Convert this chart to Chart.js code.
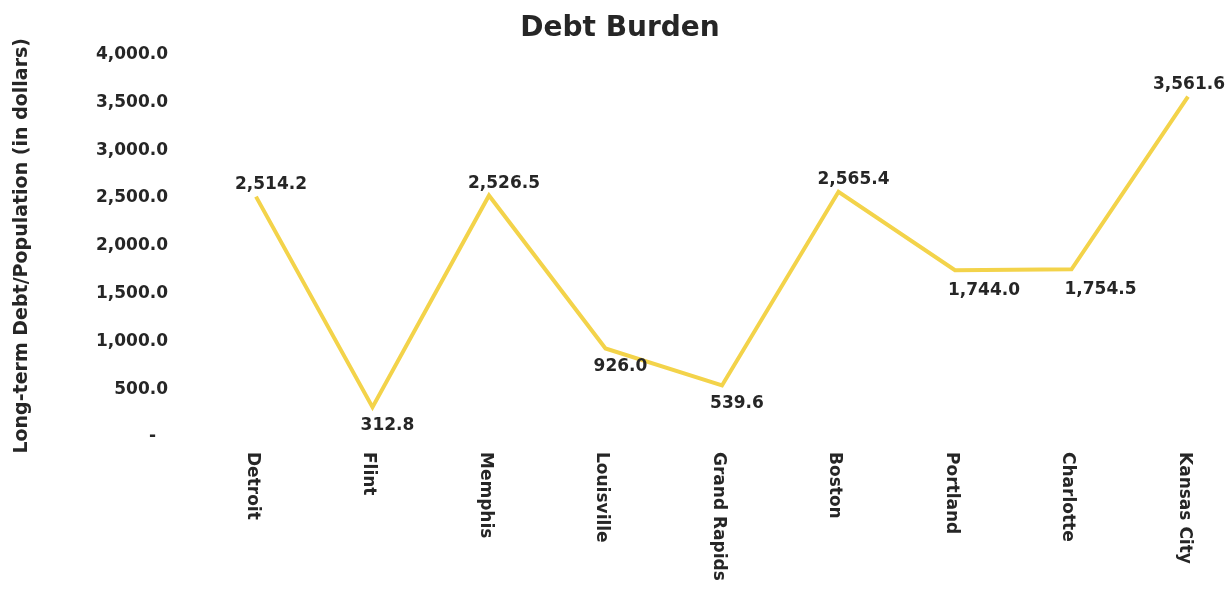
<!DOCTYPE html>
<html>
<head>
<meta charset="utf-8">
<title>Debt Burden</title>
<script src="https://cdn.jsdelivr.net/npm/chart.js@4"></script>
<style>
  body { margin: 0; background: #fff; }
  #wrap { width: 1231px; height: 589px; position: relative; }
</style>
</head>
<body>
<div id="wrap"><canvas id="debtChart"></canvas></div>
<script>
// data
const cities = ['Detroit', 'Flint', 'Memphis', 'Louisville', 'Grand Rapids', 'Boston', 'Portland', 'Charlotte', 'Kansas City'];
const debtPerCapita = [2514.2, 312.8, 2526.5, 926.0, 539.6, 2565.4, 1744.0, 1754.5, 3561.6];
// where each value label sits relative to its point
const labelSide = ['above', 'below', 'above', 'below', 'below', 'above', 'belowRight', 'belowRight', 'above'];

const textColor = '#262626';
const fontFamily = '"DejaVu Sans", sans-serif';

function fmt(v){
    return v.toLocaleString('en-US', {minimumFractionDigits: 1, maximumFractionDigits: 1});
}

// value labels next to each point
const valueLabels = {
    id: 'valueLabels',
    afterDatasetsDraw(chart){
        const ctx = chart.ctx;
        const meta = chart.getDatasetMeta(0);
        ctx.save();
        ctx.font = 'bold 17px ' + fontFamily;
        ctx.fillStyle = textColor;
        ctx.textAlign = 'center';
        ctx.textBaseline = 'middle';
        meta.data.forEach((pt, i) => {
            const text = fmt(debtPerCapita[i]);
            const w = ctx.measureText(text).width;
            let x = pt.x + 15;
            let y = pt.y + 18;
            if(labelSide[i] === 'above') y = pt.y - 12;
            if(labelSide[i] === 'belowRight'){ x = pt.x + 29; y = pt.y + 20; }
            // keep label inside the canvas
            if(x + w / 2 > chart.width - 6) x = chart.width - 6 - w / 2;
            ctx.fillText(text, x, y);
        });
        ctx.restore();
    }
};

// category labels, rotated clockwise (read top to bottom)
const cityLabels = {
    id: 'cityLabels',
    afterDraw(chart){
        const ctx = chart.ctx;
        const xScale = chart.scales.x;
        ctx.save();
        ctx.font = 'bold 17px ' + fontFamily;
        ctx.fillStyle = textColor;
        ctx.textAlign = 'left';
        ctx.textBaseline = 'middle';
        cities.forEach((c, i) => {
            const x = xScale.getPixelForTick(i);
            ctx.save();
            ctx.translate(x - 4, xScale.top + 15);
            ctx.rotate(Math.PI / 2);
            ctx.fillText(c, 0, 0);
            ctx.restore();
        });
        ctx.restore();
    }
};

const chart = new Chart(document.getElementById('debtChart'), {
    type: 'line',
    data: {
        labels: cities,
        datasets: [{
            label: 'Debt Burden',
            data: debtPerCapita,
            borderColor: '#F3D34A',
            borderWidth: 4,
            pointRadius: 0,
            tension: 0,
            fill: false
        }]
    },
    options: {
        responsive: true,
        maintainAspectRatio: false,
        animation: false,
        // left padding keeps the title centred where the reference has it
        layout: { padding: { left: 52, right: 43, top: 0, bottom: 0 } },
        plugins: {
            legend: { display: false },
            tooltip: { enabled: false },
            title: {
                display: true,
                text: 'Debt Burden',
                color: textColor,
                font: { family: fontFamily, size: 28, weight: 'bold' },
                padding: { top: 12, bottom: 9 }
            }
        },
        scales: {
            x: {
                offset: false,
                grid: { display: false, drawTicks: false },
                border: { display: false },
                ticks: { display: false },
                afterFit(scale){ scale.height = 152; }
            },
            y: {
                min: 0,
                max: 4000,
                grid: { display: false, drawTicks: false },
                border: { display: false },
                ticks: {
                    stepSize: 500,
                    padding: 88,
                    color: textColor,
                    font: { family: fontFamily, size: 17, weight: 'bold' },
                    callback: v => v === 0 ? '-  ' : fmt(v)
                },
                title: {
                    display: true,
                    text: 'Long-term Debt/Population (in dollars)',
                    color: textColor,
                    font: { family: fontFamily, size: 19, weight: 'bold' },
                    padding: { top: -41, bottom: 0 }
                },
                afterFit(scale){
                    scale.width = 204;
                    // the big tick padding should not push the plot down
                    scale.paddingTop = 10;
                    scale.paddingBottom = 10;
                }
            }
        }
    },
    plugins: [valueLabels, cityLabels]
});
</script>
</body>
</html>
